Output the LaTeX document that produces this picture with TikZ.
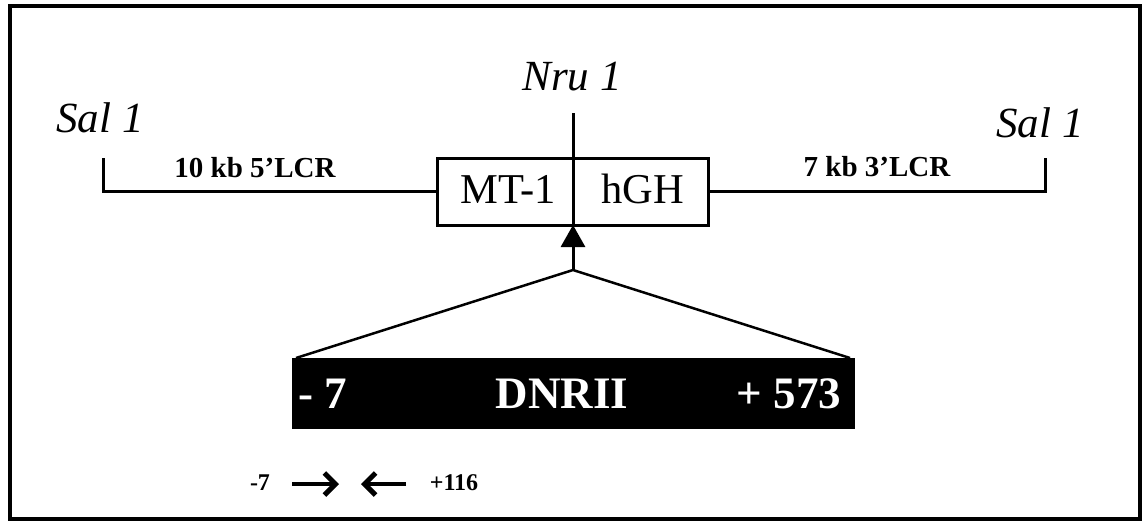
\documentclass[tikz,border=0pt]{standalone}
\usepackage{fontspec}
\setmainfont{Liberation Serif}
\usetikzlibrary{arrows.meta}
\begin{document}
\begin{tikzpicture}[x=1pt,y=-1pt,line width=3pt,
  site/.style={inner sep=0pt,font=\fontsize{43}{43}\selectfont\itshape},
  lcr/.style={inner sep=0pt,font=\fontsize{29}{29}\selectfont\bfseries},
  genetxt/.style={inner sep=0pt,font=\fontsize{42.5}{42.5}\selectfont},
  dnrtxt/.style={inner sep=0pt,text=white,font=\fontsize{45}{45}\selectfont\bfseries},
  primer/.style={inner sep=0pt,font=\fontsize{24}{24}\selectfont\bfseries},
  primarrow/.style={line width=4.5pt,-{Straight Barb[length=11pt,width=22pt,line width=5pt]}}]
\useasboundingbox (0,0) rectangle (1146,523);
% frame
\draw[line width=3.5pt] (10,6) rectangle (1140,519);
% labels
\node[site] (salL) at (100,118) {Sal 1};
\node[site] (salR) at (1040,123) {Sal 1};
\node[site] (nru) at (572,77) {Nru 1};
\node[lcr] (lcr5) at (255,168) {10 kb 5’LCR};
\node[lcr] (lcr3) at (877,167) {7 kb 3’LCR};
% gene box
\node[draw,minimum width=271pt,minimum height=67pt,inner sep=0pt,outer sep=0pt] (gene) at (573,191.5) {};
\node[genetxt] (mt) at (508,189) {MT-1};
\node[genetxt] (hgh) at (643,189) {hGH};
% brackets
\coordinate (sL) at (103,158);
\coordinate (sR) at (1045,158);
\draw (sL) |- (gene.west);
\draw (sR) |- (gene.east);
% Nru line
\coordinate (ntop) at (573,113);
\draw (ntop) -- (gene.south);
% insertion arrow
\coordinate (apex) at (573,270);
\draw[-{Triangle[length=22pt,width=24pt]}] (apex) -- (gene.south);
% DNRII box
\node[fill=black,minimum width=563pt,minimum height=71pt,inner sep=0pt,outer sep=0pt] (dnr) at (573.5,393.5) {};
\draw[line width=2.5pt,line join=miter] ([xshift=4pt]dnr.north west) -- (apex) -- ([xshift=-5pt]dnr.north east);
\node[dnrtxt] (m7) at (323,394) {- 7};
\node[dnrtxt] (dnrlbl) at (562,394) {DNRII};
\node[dnrtxt] (p573) at (789,394) {+ 573};
% primers
\node[primer] (pm7) at (260,483) {-7};
\node[primer] (p116) at (454,483) {+116};
\coordinate (fa) at (292,484);
\coordinate (fb) at (339,484);
\coordinate (ra) at (406,484);
\coordinate (rb) at (361,484);
\draw[primarrow] (fa) -- (fb);
\draw[primarrow] (ra) -- (rb);
\end{tikzpicture}
\end{document}
